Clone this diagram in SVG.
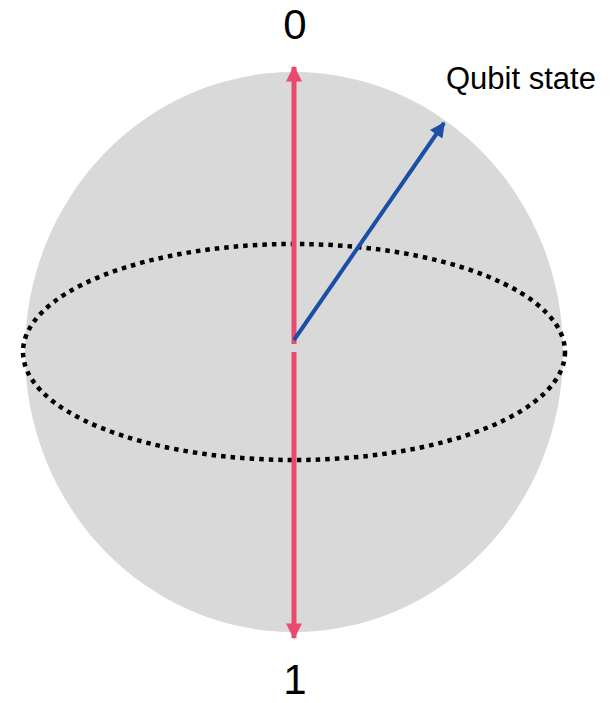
<svg xmlns="http://www.w3.org/2000/svg" width="614" height="703" viewBox="0 0 614 703">
<style>
.lbl{font-family:"Liberation Sans",Arial,sans-serif;fill:#000}
.axis{stroke:#E84A6E;stroke-width:5;fill:none}
</style>
<defs>
<marker id="redhead" viewBox="0 0 10 10" refX="9" refY="5" markerWidth="3.4" markerHeight="3.2" orient="auto" markerUnits="strokeWidth">
<path d="M0,0 L10,5 L0,10 z" fill="#E84A6E"/>
</marker>
<marker id="bluehead" viewBox="0 0 10 10" refX="9" refY="5" markerWidth="4.2" markerHeight="3.8" orient="auto" markerUnits="strokeWidth">
<path d="M0,0 L10,5 L0,10 z" fill="#1A4FA8"/>
</marker>
</defs>
<g id="sphere">
<ellipse cx="294" cy="352" rx="269" ry="280" fill="#D9D9D9"/>
</g>
<g id="equator">
<ellipse cx="294" cy="352" rx="271" ry="108" fill="none" stroke="#000" stroke-width="4.5" stroke-dasharray="4.5 5"/>
</g>
<g id="connectors">
<line class="axis" x1="294" y1="344" x2="294" y2="67" marker-end="url(#redhead)"/>
<line class="axis" x1="294" y1="352" x2="294" y2="638" marker-end="url(#redhead)"/>
<line x1="294" y1="340" x2="444" y2="123" stroke="#1A4FA8" stroke-width="4" marker-end="url(#bluehead)"/>
</g>
<g id="label0"><text class="lbl" x="295" y="38.5" font-size="42" text-anchor="middle">0</text></g>
<g id="label1"><text class="lbl" x="295" y="693.5" font-size="42" text-anchor="middle">1</text></g>
<g id="qubit"><text class="lbl" x="446" y="89" font-size="31">Qubit state</text></g>
</svg>
